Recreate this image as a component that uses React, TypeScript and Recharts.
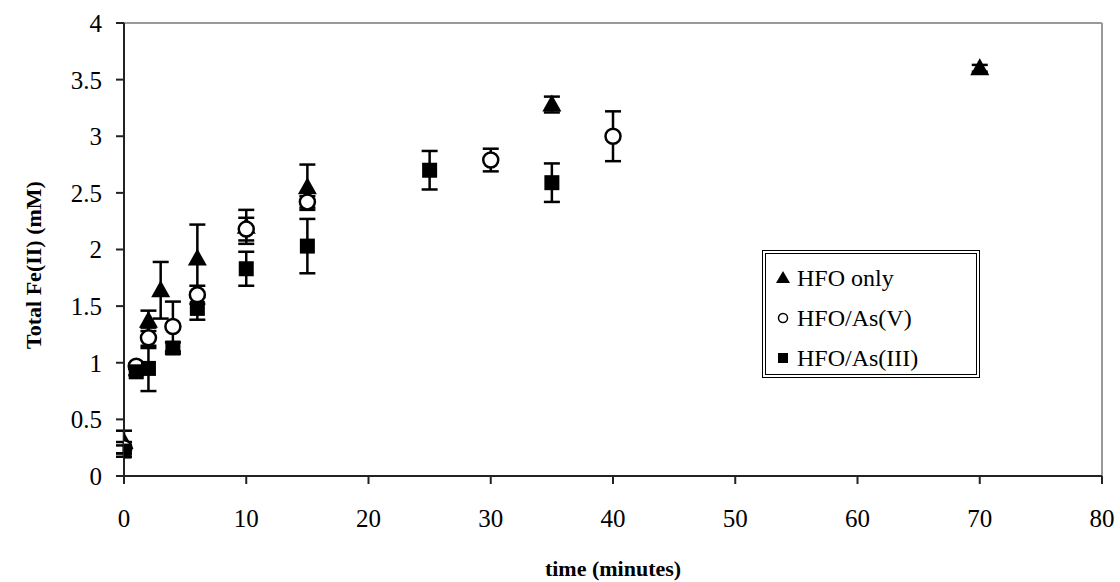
import React from 'react';
import { ScatterChart, Scatter, XAxis, YAxis, ErrorBar, ReferenceLine } from 'recharts';

// time (minutes) and total Fe(II) (mM)
const hfoTimes = [0, 2, 3, 6, 10, 15, 35, 70];
const hfoValues = [0.3, 1.37, 1.64, 1.92, 2.2, 2.55, 3.28, 3.6];
const hfoErrors = [0.1, 0.09, 0.25, 0.3, 0.15, 0.2, 0.07, 0.03];

const asVTimes = [0, 1, 2, 4, 6, 10, 15, 30, 40];
const asVValues = [0.25, 0.97, 1.22, 1.32, 1.6, 2.18, 2.42, 2.79, 3.0];
const asVErrors = [0.05, 0.02, 0.09, 0.22, 0.08, 0.1, 0.05, 0.1, 0.22];

const asIIITimes = [0, 1, 2, 4, 6, 10, 15, 25, 35];
const asIIIValues = [0.22, 0.92, 0.95, 1.13, 1.48, 1.83, 2.03, 2.7, 2.59];
const asIIIErrors = [0.05, 0.03, 0.2, 0.05, 0.1, 0.15, 0.24, 0.17, 0.17];

const xTicks = [0, 10, 20, 30, 40, 50, 60, 70, 80];
const yTicks = [0, 0.5, 1, 1.5, 2, 2.5, 3, 3.5, 4];

const toPoints = (t: number[], v: number[], e: number[]) =>
    t.map((time, i) => ({ time, value: v[i], err: e[i] }));

const hfoData = toPoints(hfoTimes, hfoValues, hfoErrors);
const asVData = toPoints(asVTimes, asVValues, asVErrors);
const asIIIData = toPoints(asIIITimes, asIIIValues, asIIIErrors);

const FONT = '"Liberation Serif", "Times New Roman", serif';

const Triangle = (p: any) => {
    const { cx, cy } = p;
    if (cx == null || cy == null) return null;
    return <path d={`M${cx},${cy - 10} L${cx + 9.5},${cy + 7} L${cx - 9.5},${cy + 7} Z`} fill="#000" />;
};

const Circle = (p: any) => {
    const { cx, cy } = p;
    if (cx == null || cy == null) return null;
    return <circle cx={cx} cy={cy} r={7.5} fill="#fff" stroke="#000" strokeWidth={2.5} />;
};

const Square = (p: any) => {
    const { cx, cy } = p;
    if (cx == null || cy == null) return null;
    return <rect x={cx - 7.5} y={cy - 7.5} width={15} height={15} fill="#000" />;
};

const legendItems = [
    { label: 'HFO only', mark: <path d="M7,2 L14,14 L0,14 Z" fill="#000" /> },
    { label: 'HFO/As(V)', mark: <circle cx={7} cy={9} r={4.5} fill="#fff" stroke="#000" strokeWidth={1.5} /> },
    { label: 'HFO/As(III)', mark: <rect x={2} y={4} width={10} height={10} fill="#000" /> },
];

const LegendBox = () => (
    <div
        style={{
            position: 'absolute',
            left: 762,
            top: 250,
            boxSizing: 'border-box',
            width: 218,
            height: 128,
            border: '4px double #000',
            background: '#fff',
            padding: '4px 0 0 10px',
            fontFamily: FONT,
            fontSize: 24,
            color: '#000',
        }}
    >
        {legendItems.map(item => (
            <div key={item.label} style={{ display: 'flex', alignItems: 'center', height: 40 }}>
                <svg width={16} height={18} style={{ marginRight: 5 }}>{item.mark}</svg>
                <span>{item.label}</span>
            </div>
        ))}
    </div>
);

const YLabel = () => (
    <text
        x={33}
        y={265}
        transform="rotate(-90 33 265)"
        textAnchor="middle"
        dominantBaseline="central"
        fontFamily={FONT}
        fontWeight="bold"
        fontSize={22}
        fill="#000"
    >
        Total Fe(II) (mM)
    </text>
);

export default function App() {
    return (
        <div style={{ position: 'absolute', left: 0, top: 0, width: 1120, height: 582, background: '#fff' }}>
            <ScatterChart width={1120} height={582} margin={{ top: 23, right: 18, bottom: 0, left: 0 }}>
                <XAxis
                    type="number"
                    dataKey="time"
                    domain={[0, 80]}
                    ticks={xTicks}
                    allowDataOverflow
                    height={106}
                    tickSize={8}
                    tickMargin={25}
                    axisLine={{ stroke: '#222', strokeWidth: 2 }}
                    tickLine={{ stroke: '#222', strokeWidth: 2 }}
                    tick={{ fill: '#000', fontFamily: FONT, fontSize: 25 }}
                    label={{
                        value: 'time (minutes)',
                        position: 'insideBottom',
                        offset: 6,
                        fill: '#000',
                        fontFamily: FONT,
                        fontWeight: 'bold',
                        fontSize: 22,
                    }}
                />
                <YAxis
                    type="number"
                    dataKey="value"
                    domain={[0, 4]}
                    ticks={yTicks}
                    width={124}
                    tickSize={8}
                    tickMargin={14}
                    axisLine={{ stroke: '#222', strokeWidth: 2 }}
                    tickLine={{ stroke: '#222', strokeWidth: 2 }}
                    tick={{ fill: '#000', fontFamily: FONT, fontSize: 25 }}
                    label={{ content: () => <YLabel /> }}
                />
                <ReferenceLine y={4} stroke="#999" strokeWidth={2} />
                <ReferenceLine x={80} stroke="#999" strokeWidth={2} />
                <Scatter name="HFO only" data={hfoData} shape={Triangle} isAnimationActive={false}>
                    <ErrorBar dataKey="err" direction="y" width={8} stroke="#000" strokeWidth={2.5} />
                </Scatter>
                <Scatter name="HFO/As(V)" data={asVData} shape={Circle} isAnimationActive={false}>
                    <ErrorBar dataKey="err" direction="y" width={8} stroke="#000" strokeWidth={2.5} />
                </Scatter>
                <Scatter name="HFO/As(III)" data={asIIIData} shape={Square} isAnimationActive={false}>
                    <ErrorBar dataKey="err" direction="y" width={8} stroke="#000" strokeWidth={2.5} />
                </Scatter>
            </ScatterChart>
            <LegendBox />
        </div>
    );
}
